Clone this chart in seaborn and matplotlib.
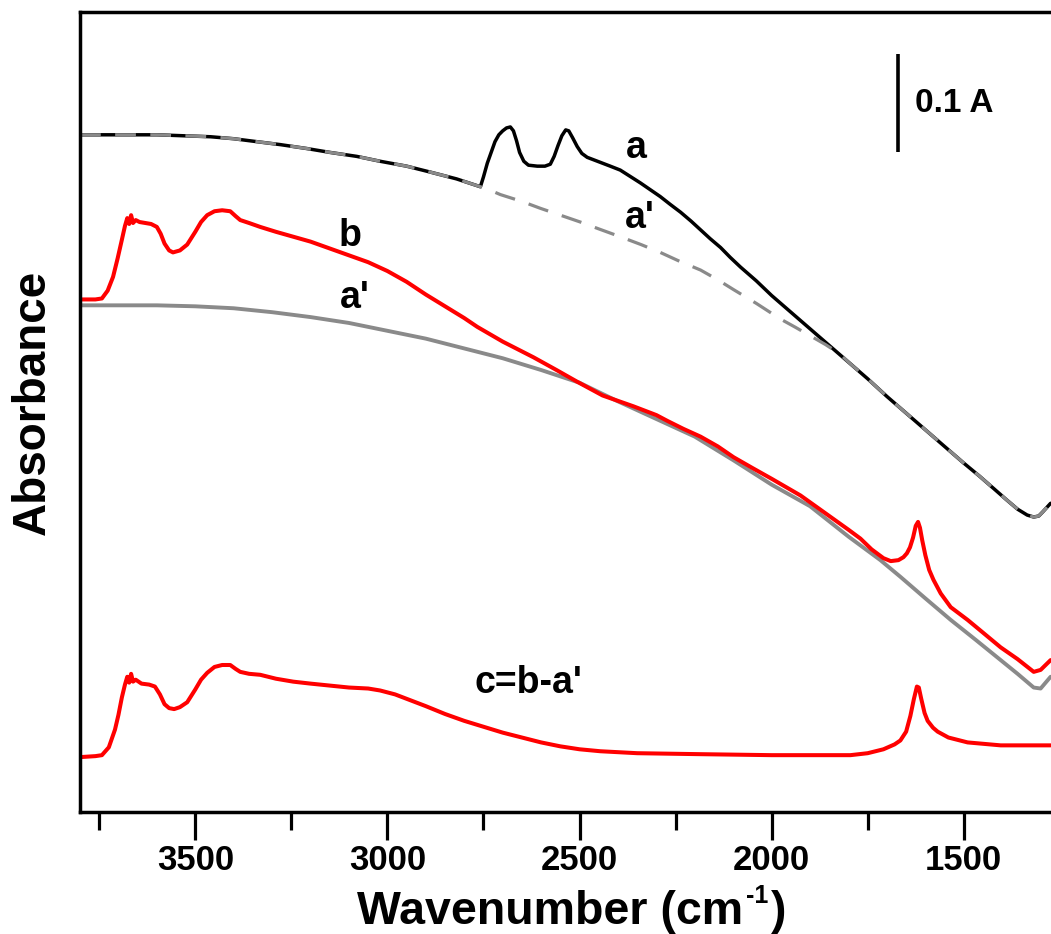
import matplotlib
matplotlib.use("Agg")
import matplotlib.pyplot as plt
from matplotlib.ticker import MultipleLocator
import seaborn as sns

# ---------------- data ----------------
# curve a (black, solid)
wn_a = [3800, 3700, 3600, 3530, 3460, 3400, 3340, 3279, 3210, 3149, 3080, 3019, 2950,
        2889, 2820, 2758, 2750, 2740, 2730, 2720, 2710, 2700, 2690, 2680, 2672, 2664,
        2656, 2645, 2633, 2610, 2590, 2576, 2566, 2556, 2546, 2536, 2528, 2518, 2506,
        2494, 2480, 2460, 2440, 2420, 2394, 2370, 2342, 2316, 2290, 2264, 2237, 2210,
        2185, 2160, 2133, 2108, 2081, 2040, 2000, 1950, 1900, 1850, 1800, 1750, 1700,
        1650, 1600, 1550, 1500, 1460, 1422, 1390, 1360, 1335, 1318, 1305, 1295, 1274]
abs_a = [0.691, 0.691, 0.691, 0.690, 0.689, 0.687, 0.684, 0.681, 0.677, 0.673, 0.669,
         0.664, 0.659, 0.653, 0.646, 0.638, 0.648, 0.662, 0.673, 0.684, 0.691, 0.695,
         0.698, 0.699, 0.695, 0.685, 0.673, 0.664, 0.660, 0.659, 0.659, 0.661, 0.669,
         0.680, 0.690, 0.696, 0.695, 0.688, 0.679, 0.672, 0.668, 0.665, 0.662, 0.659,
         0.655, 0.649, 0.642, 0.635, 0.628, 0.620, 0.612, 0.603, 0.594, 0.585, 0.576,
         0.566, 0.556, 0.542, 0.527, 0.510, 0.493, 0.476, 0.459, 0.442, 0.424, 0.407,
         0.390, 0.373, 0.356, 0.343, 0.330, 0.319, 0.309, 0.303, 0.301, 0.302, 0.306,
         0.315]

# curve a' drawn over a (grey, dashed)
wn_a1 = [3800, 3700, 3600, 3530, 3460, 3400, 3340, 3279, 3210, 3149, 3080, 3019, 2950,
         2889, 2820, 2758, 2730, 2706, 2650, 2602, 2550, 2498, 2450, 2394, 2340, 2290,
         2240, 2185, 2140, 2099, 2040, 1977, 1940, 1900, 1860, 1821, 1800, 1750, 1700,
         1650, 1600, 1550, 1500, 1460, 1422, 1390, 1360, 1335, 1318, 1305, 1295, 1274]
abs_a1 = [0.691, 0.691, 0.691, 0.690, 0.689, 0.687, 0.684, 0.681, 0.677, 0.673, 0.669,
          0.664, 0.659, 0.653, 0.646, 0.638, 0.634, 0.630, 0.623, 0.616, 0.609, 0.602,
          0.595, 0.587, 0.579, 0.571, 0.562, 0.553, 0.543, 0.533, 0.519, 0.503, 0.495,
          0.486, 0.477, 0.467, 0.459, 0.442, 0.424, 0.407, 0.390, 0.373, 0.356, 0.343,
          0.330, 0.319, 0.309, 0.303, 0.301, 0.302, 0.306, 0.315]

# curve a' (grey, solid, shifted)
wn_a2 = [3800, 3700, 3600, 3500, 3400, 3300, 3200, 3100, 3000, 2900, 2800, 2700, 2600,
         2500, 2400, 2300, 2200, 2100, 2000, 1900, 1800, 1717, 1665, 1600, 1534, 1470,
         1404, 1360, 1318, 1300, 1274]
abs_a2 = [0.517, 0.517, 0.517, 0.516, 0.514, 0.510, 0.505, 0.499, 0.491, 0.483, 0.473,
          0.463, 0.451, 0.438, 0.419, 0.401, 0.383, 0.359, 0.334, 0.312, 0.281, 0.257,
          0.240, 0.218, 0.196, 0.176, 0.155, 0.141, 0.127, 0.126, 0.138]

# curve b (red)
wn_b = [3800, 3760, 3743, 3728, 3714, 3702, 3691, 3683, 3677, 3672, 3667, 3662, 3655,
        3645, 3630, 3615, 3600, 3590, 3580, 3568, 3558, 3540, 3521, 3500, 3485, 3469,
        3450, 3430, 3409, 3395, 3383, 3360, 3331, 3290, 3245, 3200, 3150, 3100, 3050,
        3000, 2950, 2900, 2850, 2800, 2766, 2700, 2620, 2560, 2506, 2440, 2360, 2300,
        2271, 2230, 2185, 2140, 2099, 2050, 2000, 1925, 1850, 1800, 1769, 1740, 1709,
        1690, 1670, 1657, 1648, 1640, 1632, 1625, 1619, 1614, 1608, 1600, 1590, 1579,
        1560, 1534, 1490, 1450, 1404, 1360, 1318, 1300, 1274]
abs_b = [0.523, 0.523, 0.524, 0.532, 0.546, 0.565, 0.584, 0.598, 0.606, 0.600, 0.609,
         0.601, 0.604, 0.602, 0.601, 0.600, 0.597, 0.590, 0.580, 0.573, 0.571, 0.573,
         0.579, 0.592, 0.602, 0.609, 0.613, 0.614, 0.613, 0.608, 0.604, 0.601, 0.597,
         0.592, 0.587, 0.582, 0.575, 0.568, 0.561, 0.552, 0.541, 0.528, 0.516, 0.504,
         0.495, 0.480, 0.464, 0.451, 0.439, 0.425, 0.414, 0.405, 0.399, 0.391, 0.383,
         0.373, 0.362, 0.351, 0.340, 0.323, 0.302, 0.288, 0.279, 0.268, 0.259, 0.256,
         0.257, 0.260, 0.264, 0.270, 0.280, 0.292, 0.296, 0.290, 0.277, 0.262, 0.247,
         0.237, 0.223, 0.209, 0.196, 0.183, 0.168, 0.156, 0.143, 0.145, 0.155]

# curve c = b - a' (red)
wn_c = [3800, 3760, 3743, 3725, 3709, 3700, 3691, 3683, 3677, 3672, 3667, 3662, 3655,
        3640, 3620, 3605, 3592, 3580, 3568, 3555, 3540, 3521, 3500, 3485, 3469, 3450,
        3430, 3409, 3395, 3383, 3360, 3331, 3290, 3245, 3200, 3150, 3100, 3050, 3019,
        2980, 2940, 2900, 2850, 2800, 2750, 2700, 2650, 2600, 2550, 2500, 2446, 2350,
        2185, 2000, 1850, 1795, 1750, 1709, 1680, 1665, 1650, 1639, 1630, 1622, 1617,
        1611, 1602, 1594, 1580, 1568, 1540, 1490, 1404, 1274]
abs_c = [0.056, 0.057, 0.058, 0.066, 0.084, 0.099, 0.117, 0.130, 0.138, 0.132, 0.141,
         0.133, 0.135, 0.131, 0.130, 0.128, 0.120, 0.110, 0.106, 0.105, 0.107, 0.112,
         0.125, 0.135, 0.142, 0.148, 0.150, 0.150, 0.146, 0.143, 0.141, 0.140, 0.136,
         0.133, 0.131, 0.129, 0.127, 0.126, 0.124, 0.120, 0.114, 0.108, 0.100, 0.093,
         0.087, 0.081, 0.076, 0.071, 0.067, 0.064, 0.062, 0.060, 0.059, 0.058, 0.058,
         0.058, 0.060, 0.064, 0.069, 0.073, 0.082, 0.098, 0.115, 0.128, 0.127, 0.116,
         0.101, 0.093, 0.086, 0.082, 0.076, 0.071, 0.068, 0.068]

# ---------------- style ----------------
sns.set_style("ticks")
plt.rcParams["font.family"] = ["Liberation Sans", "DejaVu Sans"]
plt.rcParams["font.weight"] = "bold"
plt.rcParams["text.color"] = "black"
plt.rcParams["xtick.color"] = "black"
plt.rcParams["axes.edgecolor"] = "black"

RED = "#ff0000"
GREY = "#8a8a8a"

fig = plt.figure(figsize=(10.51, 9.34), dpi=100)
ax = fig.add_axes([80 / 1051, 122 / 934, 971 / 1051, 800 / 934])

sns.lineplot(x=wn_a2, y=abs_a2, color=GREY, lw=2.8, ax=ax, sort=False, estimator=None)
sns.lineplot(x=wn_b, y=abs_b, color=RED, lw=2.9, ax=ax, sort=False, estimator=None)
sns.lineplot(x=wn_c, y=abs_c, color=RED, lw=2.9, ax=ax, sort=False, estimator=None)
sns.lineplot(x=wn_a, y=abs_a, color="black", lw=2.5, ax=ax, sort=False, estimator=None)
sns.lineplot(x=wn_a1, y=abs_a1, color=GREY, lw=2.3, ax=ax, sort=False, estimator=None,
             linestyle=(0, (6.5, 4.5)))

ax.set_xlim(3800, 1273)
ax.set_ylim(0, 0.8163)
ax.xaxis.set_major_locator(MultipleLocator(500))
ax.xaxis.set_minor_locator(MultipleLocator(250))
ax.set_yticks([])
ax.tick_params(axis="x", which="major", direction="out", length=20, width=2.3,
               labelsize=25, pad=3, colors="black")
ax.tick_params(axis="x", which="minor", direction="out", length=13, width=2.3,
               colors="black")
for lab in ax.get_xticklabels():
    lab.set_fontweight("bold")
ax.spines["right"].set_visible(False)
for s in ("left", "top", "bottom"):
    ax.spines[s].set_linewidth(2.5)
    ax.spines[s].set_color("black")
ax.set_xlabel("")
ax.set_ylabel("")

# curve labels
lbl = dict(fontsize=27, fontweight="bold", ha="center", va="center", color="black")
ax.text(2352, 0.678, "a", **lbl)
ax.text(2342, 0.606, "a'", **lbl)
ax.text(3097, 0.588, "b", **lbl)
ax.text(3084, 0.524, "a'", **lbl)
ax.text(2633, 0.132, "c=b-a'", **lbl)

# scale bar 0.1 A
ax.vlines(1670, 0.673, 0.773, color="black", lw=2.6)
ax.text(1626, 0.723, "0.1 A", fontsize=24, fontweight="bold", ha="left", va="center")

# axis titles
W, H = 1051.0, 934.0
renderer = fig.canvas.get_renderer()
yb = 1 - 924 / H
t1 = fig.text(357 / W, yb, "Wavenumber (cm", fontsize=33.5, fontweight="bold",
              ha="left", va="baseline", color="black")
bb1 = t1.get_window_extent(renderer=renderer)
t2 = fig.text(bb1.x1 / W + 3 / W, yb + 21 / H, "-1", fontsize=18, fontweight="bold",
              ha="left", va="baseline", color="black")
bb2 = t2.get_window_extent(renderer=renderer)
fig.text(bb2.x1 / W + 2 / W, yb, ")", fontsize=33.5, fontweight="bold",
         ha="left", va="baseline", color="black")
fig.text(33 / W, 1 - 402 / H, "Absorbance", fontsize=33, fontweight="bold",
         rotation=90, ha="center", va="center", color="black")

fig.savefig("out.png", dpi=100)
